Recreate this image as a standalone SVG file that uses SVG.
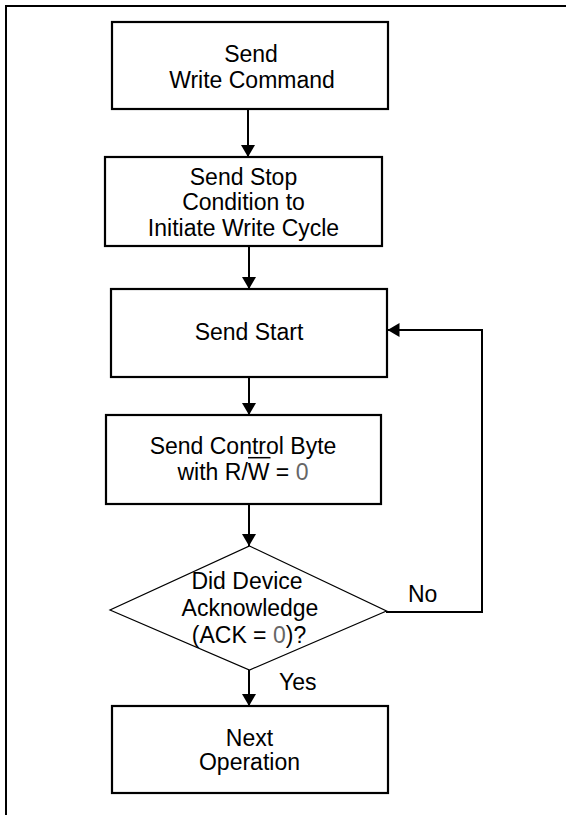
<svg xmlns="http://www.w3.org/2000/svg" width="573" height="815" viewBox="0 0 573 815">
<defs>
<style>
.box{fill:#fff;stroke:#000;stroke-width:2.2}
.dia{fill:#fff;stroke:#000;stroke-width:1.2}
.t{font-family:"Liberation Sans",Arial,sans-serif;font-size:23px;fill:#000;text-anchor:middle}
.lbl{font-family:"Liberation Sans",Arial,sans-serif;font-size:23px;fill:#000}
.z{fill:#666}
.c{fill:none;stroke:#000;stroke-width:2}
</style>
<marker id="ah" viewBox="0 0 12 14" refX="12" refY="7" markerWidth="12" markerHeight="14" markerUnits="userSpaceOnUse" orient="auto">
<path d="M0,0 L12,7 L0,14 z" fill="#000"/>
</marker>
</defs>
<rect width="573" height="815" fill="#fff"/>
<path d="M6,815 V6 H566" fill="none" stroke="#000" stroke-width="2"/>
<g id="connectors">
<path class="c" d="M248,109 V157" marker-end="url(#ah)"/>
<path class="c" d="M249,246 V289" marker-end="url(#ah)"/>
<path class="c" d="M249,377 V415" marker-end="url(#ah)"/>
<path class="c" d="M249,504 V546" marker-end="url(#ah)"/>
<path class="c" d="M249,670 V706" marker-end="url(#ah)"/>
<path class="c" d="M386,612 H482 V330 H387.5" marker-end="url(#ah)"/>
</g>
<g id="n1">
<rect class="box" x="112" y="22" width="276" height="87"/>
<text class="t" x="251" y="62">Send</text>
<text class="t" x="252" y="87.5">Write Command</text>
</g>
<g id="n2">
<rect class="box" x="105" y="157" width="277" height="89"/>
<text class="t" x="243.5" y="184.5">Send Stop</text>
<text class="t" x="243.5" y="210">Condition to</text>
<text class="t" x="243.5" y="235.5">Initiate Write Cycle</text>
</g>
<g id="n3">
<rect class="box" x="111" y="289" width="276" height="88"/>
<text class="t" x="249" y="340">Send Start</text>
</g>
<g id="n4">
<rect class="box" x="106" y="415" width="275" height="89"/>
<text class="t" x="243" y="453.5">Send Control Byte</text>
<text class="t" x="243" y="480">with R/W = <tspan class="z">0</tspan></text>
<line x1="248" y1="457.7" x2="270.5" y2="457.7" stroke="#000" stroke-width="1.5"/>
</g>
<g id="n5">
<polygon class="dia" points="249.5,546 386.5,611 249.5,670 110,610"/>
<text class="t" x="247" y="588.5">Did Device</text>
<text class="t" x="250" y="615.5">Acknowledge</text>
<text class="t" x="249" y="643.3">(ACK = <tspan class="z">0</tspan>)?</text>
</g>
<g id="n6">
<rect class="box" x="112" y="706" width="276" height="87"/>
<text class="t" x="249.5" y="746">Next</text>
<text class="t" x="249.5" y="770">Operation</text>
</g>
<text class="lbl" x="408" y="601.5">No</text>
<text class="lbl" x="279" y="689.5">Yes</text>
</svg>
